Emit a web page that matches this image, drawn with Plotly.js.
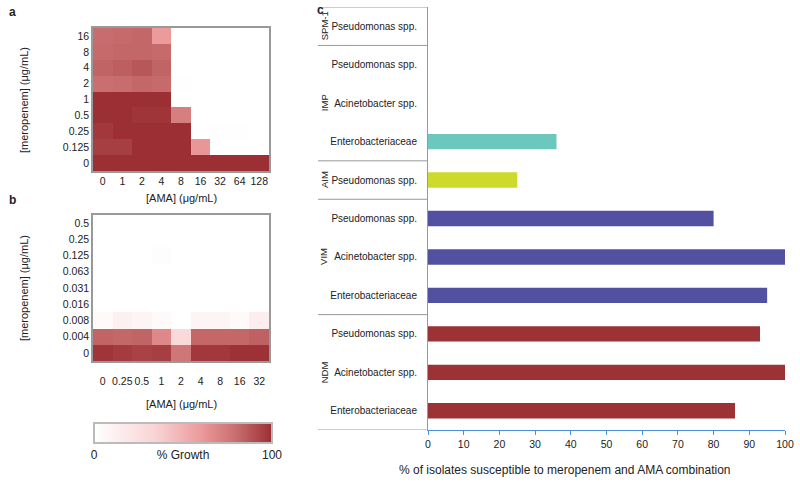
<!DOCTYPE html>
<html>
<head>
<meta charset="utf-8">
<script src="https://cdn.plot.ly/plotly-3.0.1.min.js"></script>
<style>
  body { margin: 0; background: #fff; }
  #plot { width: 800px; height: 484px; }
</style>
</head>
<body>
<div id="plot"></div>
<script>
// panel a: checkerboard, meropenem vs AMA
var amaA = ['0', '1', '2', '4', '8', '16', '32', '64', '128'];
var meroA = ['0', '0.125', '0.25', '0.5', '1', '2', '4', '8', '16'];   // bottom -> top
var growthA = [
  [100, 100, 100, 100, 100, 100, 100, 100, 100],
  [95, 95, 100, 100, 100, 62, 0, 0, 0],
  [97, 100, 100, 100, 100, 0, 1, 1, 0],
  [100, 100, 98, 98, 72, 0, 0, 0, 0],
  [100, 100, 100, 100, 0, 0, 0, 0, 0],
  [79, 80, 82, 81, 1, 0, 0, 0, 0],
  [83, 85, 87, 83, 0, 0, 0, 0, 0],
  [81, 82, 82, 81, 0, 0, 0, 0, 0],
  [80, 81, 82, 60, 0, 0, 0, 0, 0]
];

// panel b
var amaB = ['0', '0.25', '0.5', '1', '2', '4', '8', '16', '32'];
var meroB = ['0', '0.004', '0.008', '0.016', '0.031', '0.063', '0.125', '0.25', '0.5'];
var growthB = [
  [98, 96, 94, 95, 76, 97, 97, 99, 99],
  [83, 82, 83, 68, 30, 82, 82, 82, 84],
  [4, 12, 8, 4, 0, 8, 8, 4, 14],
  [0, 0, 0, 0, 0, 0, 0, 0, 0],
  [0, 0, 0, 0, 0, 0, 0, 0, 0],
  [0, 0, 0, 0, 0, 0, 0, 0, 0],
  [0, 0, 0, 2, 0, 0, 0, 0, 0],
  [0, 0, 0, 0, 0, 0, 0, 0, 0],
  [0, 0, 0, 0, 0, 0, 0, 0, 0]
];

// panel c, listed top -> bottom
var groups = ['SPM-1', 'IMP', 'IMP', 'IMP', 'AIM', 'VIM', 'VIM', 'VIM', 'NDM', 'NDM', 'NDM'];
var organisms = ['Pseudomonas spp.', 'Pseudomonas spp.', 'Acinetobacter spp.', 'Enterobacteriaceae',
  'Pseudomonas spp.', 'Pseudomonas spp.', 'Acinetobacter spp.', 'Enterobacteriaceae',
  'Pseudomonas spp.', 'Acinetobacter spp.', 'Enterobacteriaceae'];
var susceptible = [0, 0, 0, 36, 25, 80, 100, 95, 93, 100, 86];

var groupColors = { 'SPM-1': '#888888', IMP: '#6cc8bf', AIM: '#cbda2b', VIM: '#5251a1', NDM: '#9c3235' };

var W = 800, H = 484;
function px(x) { return x / W; }
function py(y) { return 1 - y / H; }

var growthScale = [
  [0, '#ffffff'], [0.35, '#f8d3d4'], [0.6, '#ec9a9c'], [0.8, '#c86d6f'], [1, '#9b2f33']
];

var font = 'Liberation Sans, Arial, sans-serif';

var heatA = {
  type: 'heatmap', x: amaA, y: meroA, z: growthA,
  xaxis: 'x', yaxis: 'y',
  colorscale: growthScale, zmin: 0, zmax: 100,
  showscale: true,
  colorbar: {
    orientation: 'h',
    x: px(94), xanchor: 'left',
    y: py(423), yanchor: 'top',
    len: 178, lenmode: 'pixels',
    thickness: 20, thicknessmode: 'pixels',
    xpad: 0, ypad: 0,
    outlinecolor: '#bbbbbb', outlinewidth: 2,
    tickvals: [0, 50, 100],
    ticktext: ['0', '% Growth', '100'],
    ticks: '',
    tickfont: { size: 12, color: '#222' }
  }
};

var heatB = {
  type: 'heatmap', x: amaB, y: meroB, z: growthB,
  xaxis: 'x2', yaxis: 'y2',
  colorscale: growthScale, zmin: 0, zmax: 100,
  showscale: false
};

var bars = {
  type: 'bar', orientation: 'h',
  x: susceptible,
  y: organisms.map(function (d, i) { return i; }),
  width: 0.4,
  marker: { color: groups.map(function (g) { return groupColors[g]; }) },
  xaxis: 'x3', yaxis: 'y3',
  hoverinfo: 'x'
};

var heatAxis = {
  type: 'category', ticks: '', tickangle: 0, showgrid: false, zeroline: false,
  showline: true, mirror: true, linecolor: '#999', linewidth: 1.5,
  tickfont: { size: 10.5, color: '#222' }
};

// dividers and group labels for panel c
var shapes = [];
var annotations = [];
var start = 0;
for (var i = 1; i <= groups.length; i++) {
  if (i === groups.length || groups[i] !== groups[start]) {
    annotations.push({
      xref: 'paper', yref: 'y3', x: px(324), y: (start + i - 1) / 2,
      text: groups[start], textangle: -90, showarrow: false,
      font: { size: 9.5, color: '#222' }
    });
    shapes.push({
      type: 'line', xref: 'paper', yref: 'y3',
      x0: px(318), x1: px(428), y0: i - 0.5, y1: i - 0.5,
      line: { color: '#999', width: 1 }
    });
    start = i;
  }
}
shapes.push({
  type: 'line', xref: 'paper', yref: 'y3',
  x0: px(318), x1: px(428), y0: -0.5, y1: -0.5,
  line: { color: '#999', width: 1 }
});

function label(text, x, y, opts) {
  var a = { xref: 'paper', yref: 'paper', x: px(x), y: py(y), text: text,
    showarrow: false, xanchor: 'center', yanchor: 'middle',
    font: { size: 11, color: '#222' } };
  for (var k in opts) a[k] = opts[k];
  return a;
}

annotations.push(label('<b>a</b>', 12, 12, { font: { size: 12, color: '#222' } }));
annotations.push(label('<b>b</b>', 12, 200, { font: { size: 12, color: '#222' } }));
annotations.push(label('<b>c</b>', 320, 10, { font: { size: 12, color: '#222' } }));
annotations.push(label('[AMA] (μg/mL)', 181, 198));
annotations.push(label('[AMA] (μg/mL)', 181, 404));
annotations.push(label('[meropenem] (μg/mL)', 24, 100, { textangle: -90 }));
annotations.push(label('[meropenem] (μg/mL)', 24, 288, { textangle: -90 }));
annotations.push(label('% of isolates susceptible to meropenem and AMA combination', 565, 470, { font: { size: 12, color: '#222' } }));

var layout = {
  width: W, height: H,
  margin: { l: 0, r: 0, t: 0, b: 0 },
  paper_bgcolor: '#fff', plot_bgcolor: '#fff',
  font: { family: font, size: 11, color: '#222' },
  showlegend: false,
  xaxis: Object.assign({}, heatAxis, { domain: [px(93), px(269)], anchor: 'y' }),
  yaxis: Object.assign({}, heatAxis, { domain: [py(171), py(28)], anchor: 'x' }),
  xaxis2: Object.assign({}, heatAxis, { domain: [px(93), px(269)], anchor: 'y2', ticklabelstandoff: 10 }),
  yaxis2: Object.assign({}, heatAxis, { domain: [py(361), py(215)], anchor: 'x2' }),
  xaxis3: {
    domain: [px(428), px(785)], anchor: 'y3',
    range: [0, 100], dtick: 10,
    ticks: 'outside', ticklen: 4, tickcolor: '#4a90d9',
    showline: true, linecolor: '#4a90d9', linewidth: 1,
    showgrid: false, zeroline: false,
    tickfont: { size: 10.5, color: '#222' }
  },
  yaxis3: {
    domain: [py(430), py(7)], anchor: 'x3',
    range: [groups.length - 0.5, -0.5],
    tickvals: organisms.map(function (d, i) { return i; }),
    ticktext: organisms,
    ticks: '', ticklabelstandoff: 8,
    showline: true, linecolor: '#999', linewidth: 1,
    showgrid: false, zeroline: false,
    tickfont: { size: 10, color: '#222' }
  },
  shapes: shapes,
  annotations: annotations
};

Plotly.newPlot('plot', [heatA, heatB, bars], layout, { displayModeBar: false });
</script>
</body>
</html>
